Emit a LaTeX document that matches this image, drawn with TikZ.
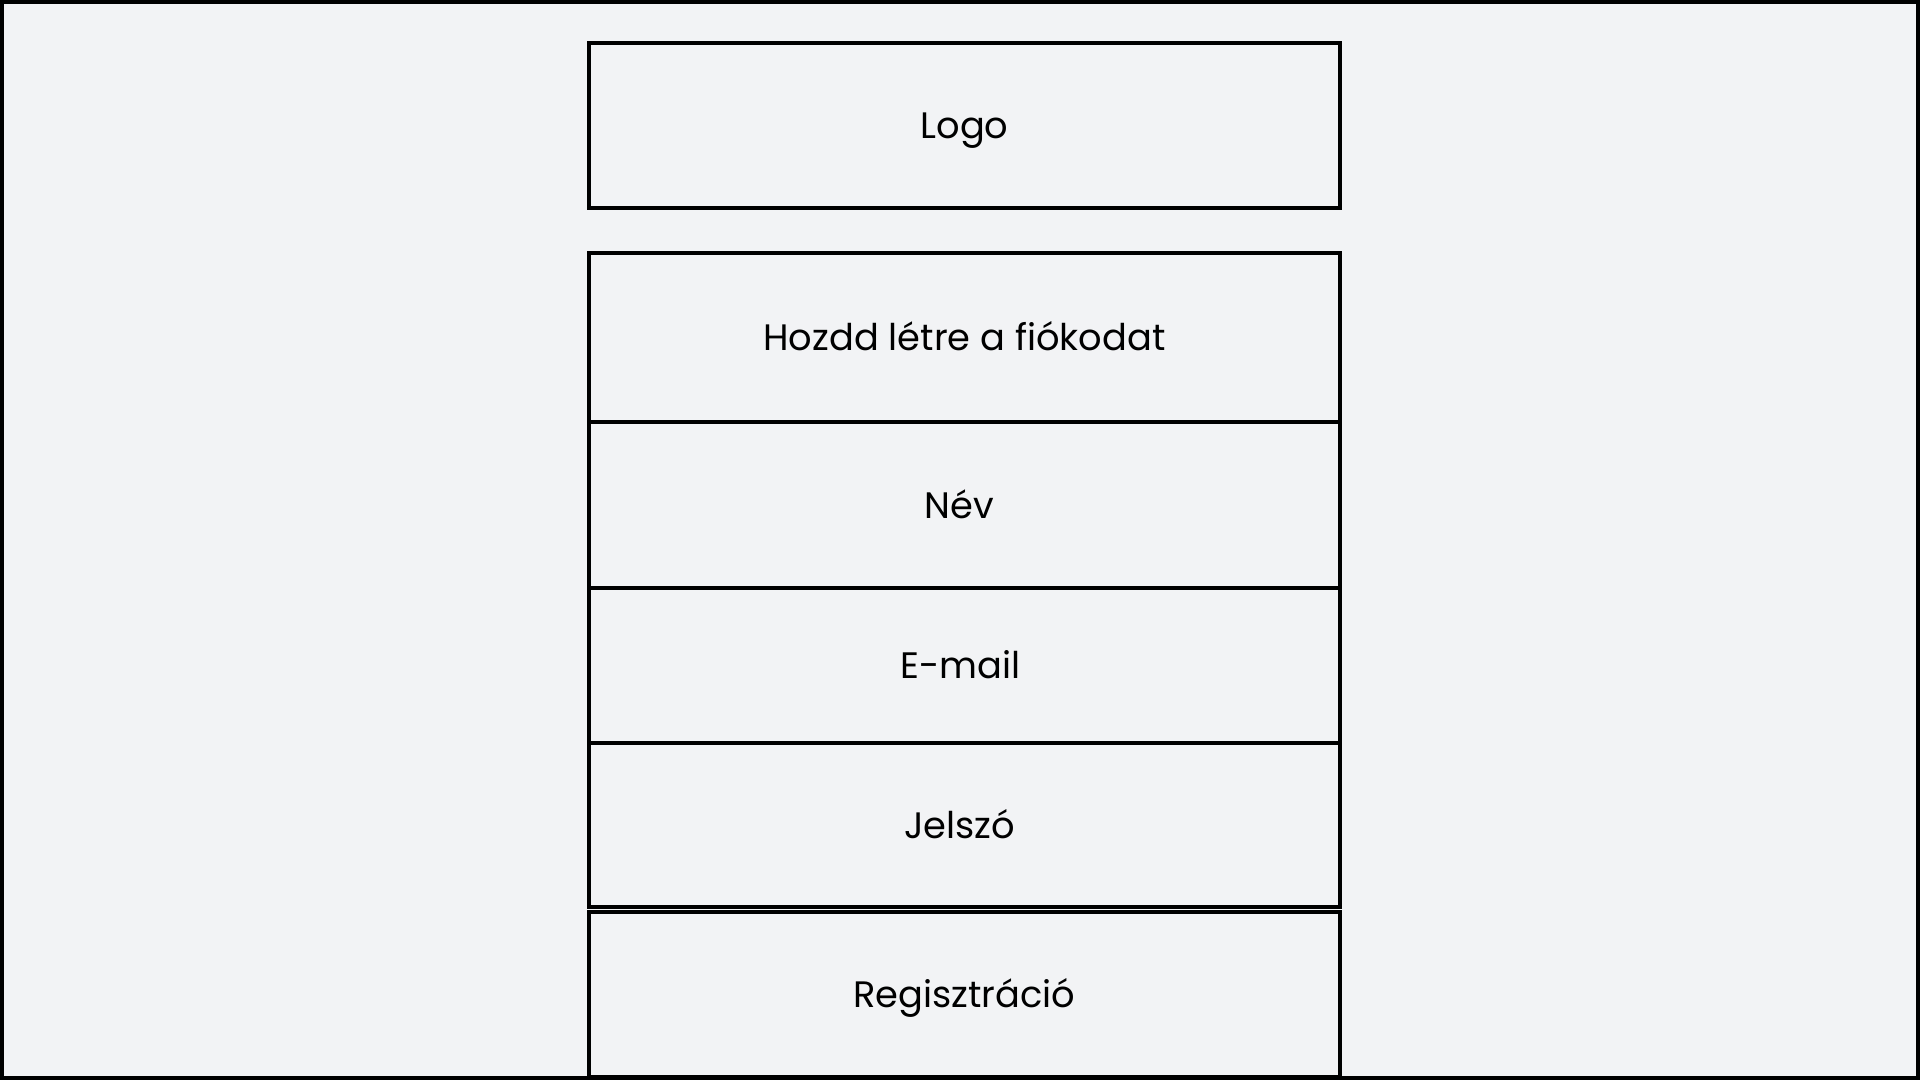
\documentclass[tikz,border=0pt]{standalone}
\usepackage{fontspec}
\setmainfont{Poppins}
\definecolor{pagebg}{HTML}{F2F3F5}
\begin{document}
\begin{tikzpicture}[x=0.5pt,y=-0.5pt,
  field/.style={draw=black, line width=1.7pt, rectangle, fill=pagebg,
    minimum width=375.5pt, inner sep=0pt, text height=17.2pt, text depth=4pt,
    font=\fontsize{18.4pt}{22pt}\selectfont}]
  % page background
  \fill[pagebg] (0,0) rectangle (1920,1080);
  \useasboundingbox (0,0) rectangle (1920,1080);
  % form boxes, stacked from top to bottom
  \node[field, minimum height=82.5pt] (logo) at (964.5,125.5) {Logo};
  \node[field, minimum height=84.5pt] (title) at (964.5,337.5) {Hozdd létre a fiókodat};
  \node[field, minimum height=83pt] (name) at (964.5,505) {\kern-5.5pt Név};
  \node[field, minimum height=77.5pt] (email) at (964.5,665.5) {\kern-4pt E-mail};
  \node[field, minimum height=82pt] (pass) at (964.5,825) {\kern-5pt Jelszó};
  \node[field, minimum height=82.5pt] (reg) at (964.5,994.5) {Regisztráció};
  % outer frame
  \draw[line width=2pt] (2,2) rectangle (1918,1078);
\end{tikzpicture}
\end{document}
